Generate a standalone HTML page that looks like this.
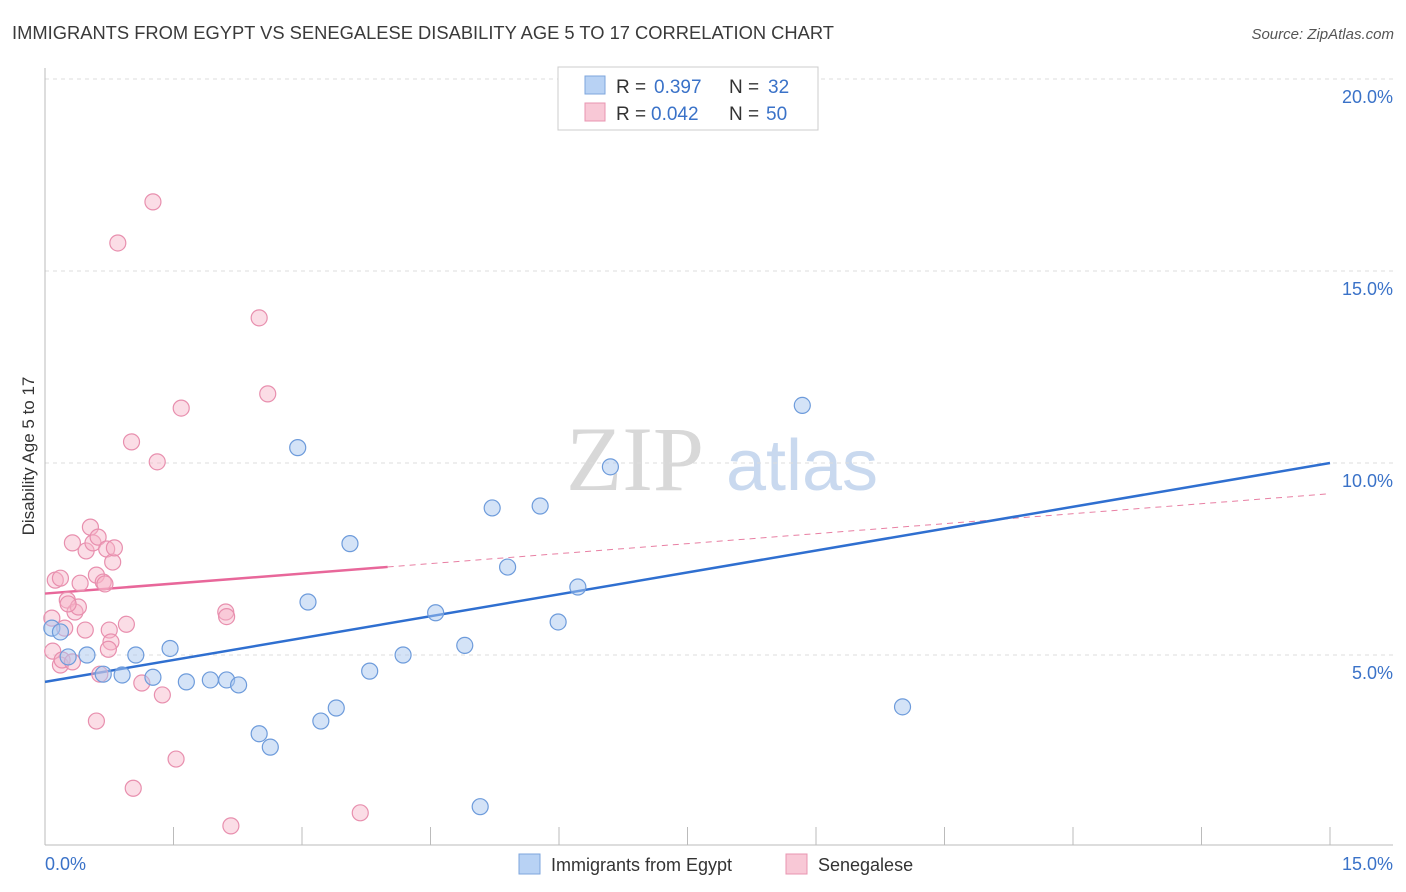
<!DOCTYPE html>
<html><head><meta charset="utf-8">
<style>
body{margin:0;background:#fff;font-family:"Liberation Sans",sans-serif;}
svg{display:block}
</style></head>
<body>
<svg id="chart" width="1406" height="892">
<text x="12" y="39" font-size="18" fill="#3a3a3a" textLength="822" lengthAdjust="spacingAndGlyphs">IMMIGRANTS FROM EGYPT VS SENEGALESE DISABILITY AGE 5 TO 17 CORRELATION CHART</text>
<text x="1394" y="39" font-size="15" fill="#555" font-style="italic" text-anchor="end">Source: ZipAtlas.com</text>
<text x="34" y="456" font-size="17" fill="#333" text-anchor="middle" transform="rotate(-90 34 456)">Disability Age 5 to 17</text>
<g>
<text x="635" y="490" font-size="92" fill="#d8d8d8" font-family="Liberation Serif,serif" text-anchor="middle">ZIP</text>
<text x="802" y="490" font-size="72" fill="#c9d9ef" text-anchor="middle">atlas</text>
</g>
<g id="grid"></g><g id="axes"></g><g id="lines"></g><g id="pts"></g>
<g>
<rect x="558" y="67" width="260" height="63" fill="#fff" stroke="#ccc"/>
<rect x="585" y="76" width="20" height="18" fill="#b8d2f4" stroke="#7ea6dc"/>
<text x="616" y="93" font-size="19" fill="#333">R = </text><text x="654" y="93" font-size="19" fill="#3a72c8">0.397</text>
<text x="729" y="93" font-size="19" fill="#333">N = </text><text x="768" y="93" font-size="19" fill="#3a72c8">32</text>
<rect x="585" y="103" width="20" height="18" fill="#f8c8d6" stroke="#e895b0"/>
<text x="616" y="120" font-size="19" fill="#333">R = </text><text x="651" y="120" font-size="19" fill="#3a72c8">0.042</text>
<text x="729" y="120" font-size="19" fill="#333">N = </text><text x="766" y="120" font-size="19" fill="#3a72c8">50</text>
</g>
<g>
<rect x="519" y="854" width="21" height="20" fill="#b8d2f4" stroke="#7ea6dc"/>
<text x="551" y="871" font-size="18" fill="#333">Immigrants from Egypt</text>
<rect x="786" y="854" width="21" height="20" fill="#f8c8d6" stroke="#e895b0"/>
<text x="818" y="871" font-size="18" fill="#333">Senegalese</text>
</g>
</svg>
<script>
const yTicks=[5,10,15,20];
const yTickLabels=["5.0%","10.0%","15.0%","20.0%"];
const xTickVals=[0,1.5,3,4.5,6,7.5,9,10.5,12,13.5,15];
const egyptX=[0.08,0.18,0.27,0.49,0.68,0.9,1.06,1.26,1.46,1.65,1.93,2.12,2.26,2.5,2.63,2.95,3.07,3.22,3.4,3.56,3.79,4.18,4.56,4.9,5.08,5.22,5.4,5.78,5.99,6.22,6.6,8.84,10.01];
const egyptY=[5.7,5.6,4.95,5.0,4.5,4.48,5.0,4.42,5.17,4.3,4.35,4.35,4.22,2.95,2.6,10.4,6.38,3.28,3.62,7.9,4.58,5.0,6.1,5.25,1.05,8.83,7.29,8.88,5.86,6.77,9.9,11.5,3.65];
const senX=[0.08,0.12,0.18,0.09,0.18,0.23,0.26,0.32,0.35,0.39,0.41,0.47,0.48,0.53,0.56,0.6,0.6,0.62,0.68,0.7,0.72,0.75,0.77,0.79,0.81,0.85,0.95,1.01,1.03,1.13,1.26,1.31,1.37,1.53,1.59,2.11,2.12,2.17,2.5,2.6,3.68,0.2,0.27,0.64,0.32,0.74];
const senY=[5.96,6.95,7.0,5.1,4.74,5.7,6.43,7.92,6.12,6.25,6.87,5.65,7.71,8.33,7.92,7.08,3.28,8.07,6.9,6.85,7.76,5.65,5.34,7.42,7.79,15.73,5.8,10.55,1.53,4.27,16.8,10.03,3.96,2.29,11.43,6.12,6.0,0.55,13.78,11.8,0.89,4.87,6.33,4.5,4.82,5.15];
const egyptLine=[4.3,10.0];
const senLine=[6.6,9.2,4.0];
const X=v=>45+v/15*1285, Y=v=>847-v*38.4;
const NS="http://www.w3.org/2000/svg";
function mk(tag,attrs,parent){const e=document.createElementNS(NS,tag);for(const k in attrs)e.setAttribute(k,attrs[k]);document.getElementById(parent).appendChild(e);return e;}
yTicks.forEach((t,i)=>{
 const g=mk('line',{x1:45,x2:1393,y1:Y(t),y2:Y(t),stroke:'#ddd','stroke-dasharray':'4,4'},'grid');
 
 
 const l=mk('text',{x:1393,y:Y(t)+24,'font-size':18,fill:'#3a72c8','text-anchor':'end'},'axes');
 l.textContent=yTickLabels[i];
 
 
});
const ax=mk('line',{x1:45,x2:45,y1:68,y2:845,stroke:'#bbb'},'axes');


const bx=mk('line',{x1:45,x2:1393,y1:845,y2:845,stroke:'#bbb'},'axes');


xTickVals.forEach(t=>{
 const k=mk('line',{x1:X(t),x2:X(t),y1:827,y2:845,stroke:'#bbb'},'axes');
 
 
});
const xl=mk('text',{x:45,y:870,'font-size':18,fill:'#3a72c8'},'axes');xl.textContent='0.0%';


const xr=mk('text',{x:1393,y:870,'font-size':18,fill:'#3a72c8','text-anchor':'end'},'axes');xr.textContent='15.0%';


const sy=x=>senLine[0]+(senLine[1]-senLine[0])*x/15;
const sd=mk('line',{x1:X(senLine[2]),y1:Y(sy(senLine[2])),x2:X(15),y2:Y(senLine[1]),stroke:'#e87fa3','stroke-width':1,'stroke-dasharray':'6,5'},'lines');


const ss=mk('line',{x1:X(0),y1:Y(senLine[0]),x2:X(senLine[2]),y2:Y(sy(senLine[2])),stroke:'#e8679a','stroke-width':2.5},'lines');


const el=mk('line',{x1:X(0),y1:Y(egyptLine[0]),x2:X(15),y2:Y(egyptLine[1]),stroke:'#2f6fd0','stroke-width':2.5},'lines');


senX.forEach((x,i)=>{
 const c=mk('circle',{cx:X(x),cy:Y(senY[i]),r:8,fill:'rgba(246,180,200,0.45)',stroke:'#e88fae','stroke-width':1.2},'pts');
 
 
});
egyptX.forEach((x,i)=>{
 const c=mk('circle',{cx:X(x),cy:Y(egyptY[i]),r:8,fill:'rgba(170,200,240,0.5)',stroke:'#6d9bdb','stroke-width':1.2},'pts');
 
 
});
</script>
</body></html>
